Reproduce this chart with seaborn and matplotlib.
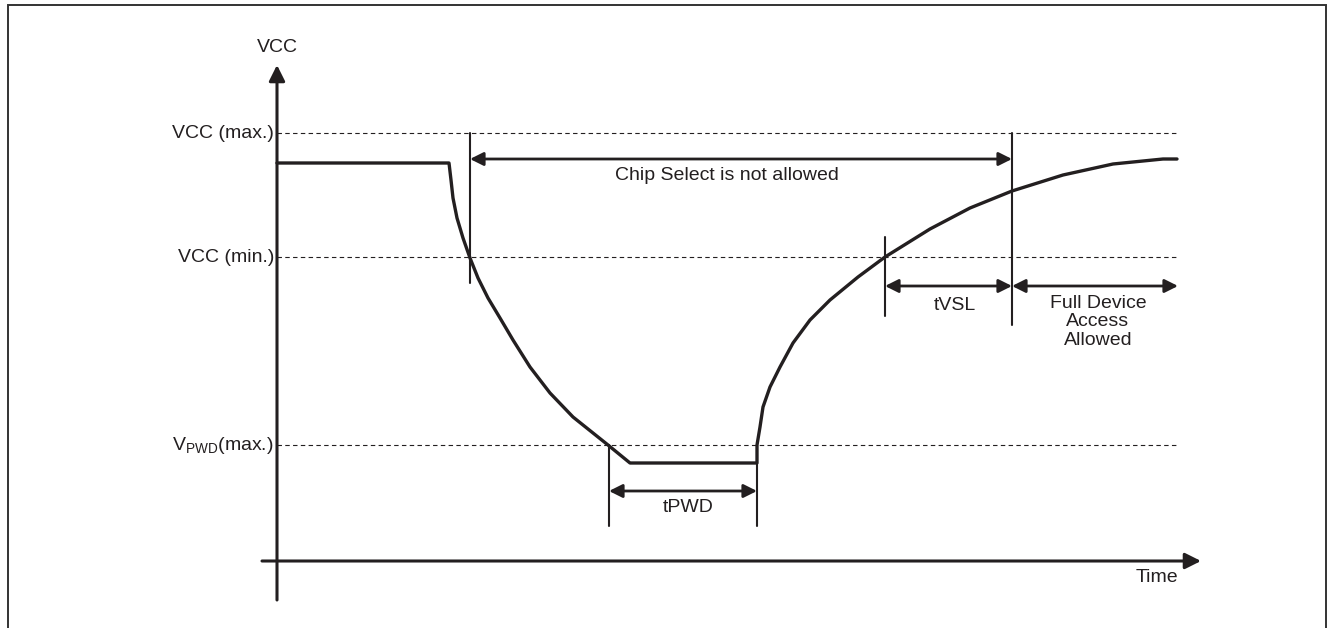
import matplotlib
matplotlib.use("Agg")
import matplotlib.pyplot as plt
import seaborn as sns
import pandas as pd

# waveform (time units, voltage units above the time axis)
wave_t = [0, 172, 174, 176, 180, 186, 193, 201, 211, 223, 236, 253, 273, 296, 316, 331, 353,
          480, 480, 483, 486, 493, 503, 516, 533, 553, 581, 608, 653, 693, 735, 786, 836, 886, 900]
wave_v = [398, 398, 381, 363, 343, 323, 303, 283, 263, 243, 221, 194, 168, 144, 128, 116, 98,
          98, 116, 134, 154, 174, 194, 218, 241, 261, 284, 304, 332, 353, 370, 386, 397, 402, 402]

level_names = ["VCC (max.)", "VCC (min.)", r"V$_\mathregular{PWD}$(max.)"]
level_values = [428, 304, 116]
level_end = 901

# vertical marker lines: time, bottom, top
marker_t = [193, 332, 480, 608, 735]
marker_lo = [278, 35, 35, 245, 236]
marker_hi = [428, 116, 98, 324, 428]

# dimension arrows: start, end, height, label, label position
dim_start = [193, 332, 608, 735]
dim_end = [735, 480, 735, 901]
dim_v = [402, 70, 275, 275]
dim_labels = ["Chip Select is not allowed", "tPWD", "tVSL", "Full Device\nAccess\nAllowed"]
dim_label_t = [450, 411, 678, 821]
dim_label_v = [386, 54, 256, 239]

ink = "#231f20"

sns.set_theme(style="white")
plt.rcParams["font.family"] = ["Liberation Sans", "DejaVu Sans"]
plt.rcParams["mathtext.fontset"] = "custom"
plt.rcParams["mathtext.rm"] = "Liberation Sans"

fig = plt.figure(figsize=(13.36, 6.28), dpi=100)
ax = fig.add_axes([0, 0, 1, 1])
ax.set_xlim(-277, 1059)
ax.set_ylim(-67, 561)
ax.axis("off")

# outer frame (open at the bottom)
ax.plot([-269, -269, 1049, 1049], [-67, 556, 556, -67], color="#333333", lw=1.4,
        solid_joinstyle="miter")

# reference levels
for name, val in zip(level_names, level_values):
    ax.plot([0, level_end], [val, val], color=ink, lw=0.8, ls=(0, (4, 3)))
    ax.text(-3, val, name, ha="right", va="center", fontsize=14, color=ink)

# axes with arrows
ax.annotate("", xy=(0, 496), xytext=(0, -39),
            arrowprops=dict(arrowstyle="-|>", mutation_scale=24, lw=2.2, color=ink,
                            shrinkA=0, shrinkB=0))
ax.annotate("", xy=(924, 0), xytext=(-15, 0),
            arrowprops=dict(arrowstyle="-|>", mutation_scale=24, lw=2.2, color=ink,
                            shrinkA=0, shrinkB=0))
ax.text(0, 513, "VCC", ha="center", va="center", fontsize=14, color=ink)
ax.text(880, -17, "Time", ha="center", va="center", fontsize=14, color=ink)

# waveform
df = pd.DataFrame({"t": wave_t, "v": wave_v})
sns.lineplot(data=df, x="t", y="v", sort=False, estimator=None, color=ink, lw=2.4, ax=ax)
ax.lines[-1].set_solid_joinstyle("round")
ax.set_xlabel("")
ax.set_ylabel("")

# marker lines
for t, lo, hi in zip(marker_t, marker_lo, marker_hi):
    ax.plot([t, t], [lo, hi], color=ink, lw=1.5)

# dimension arrows and labels
for s, e, v in zip(dim_start, dim_end, dim_v):
    ax.annotate("", xy=(e, v), xytext=(s, v),
                arrowprops=dict(arrowstyle="<|-|>", mutation_scale=20, lw=2.0, color=ink,
                                shrinkA=0, shrinkB=0))
for lab, t, v in zip(dim_labels, dim_label_t, dim_label_v):
    ax.text(t, v, lab, ha="center", va="center", fontsize=14, color=ink, linespacing=1.08)

fig.savefig("out.png", dpi=100, facecolor="white")
